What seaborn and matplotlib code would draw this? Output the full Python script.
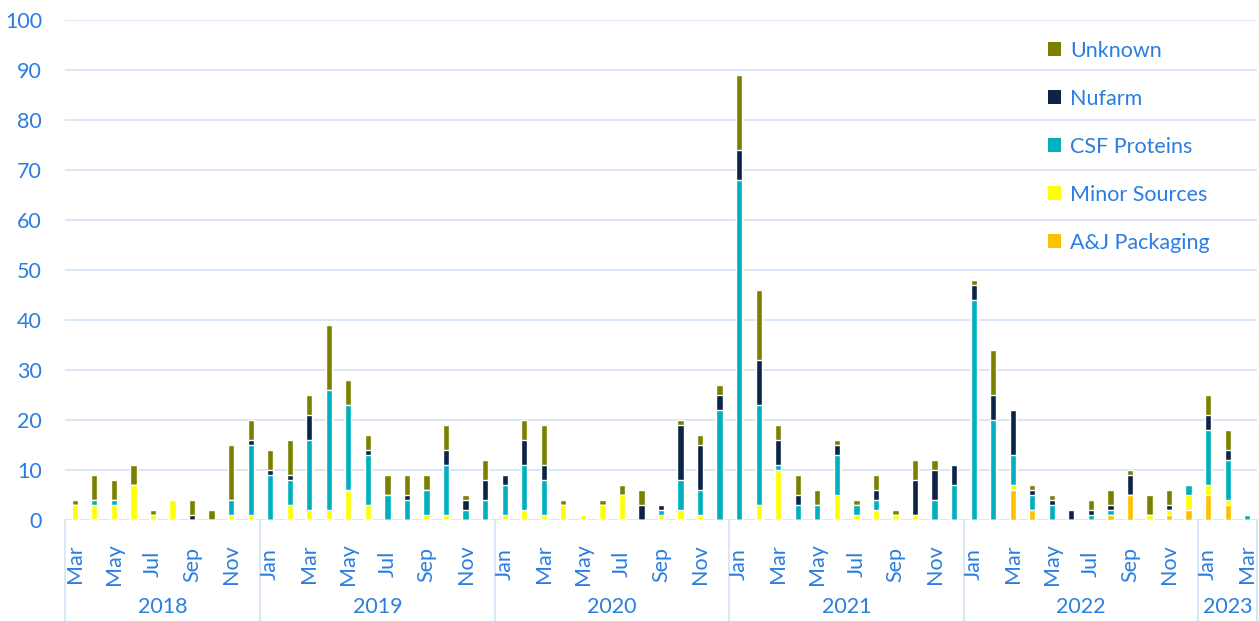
import numpy as np
import pandas as pd
import matplotlib
matplotlib.use("Agg")
import matplotlib.pyplot as plt
import matplotlib.transforms as mtransforms
from matplotlib.patches import Patch
import seaborn as sns

# ---- data -------------------------------------------------------------
years = ["2018", "2019", "2020", "2021", "2022", "2023"]
months_per_year = [10, 12, 12, 12, 12, 3]
month_names = ["Jan", "Feb", "Mar", "Apr", "May", "Jun",
               "Jul", "Aug", "Sep", "Oct", "Nov", "Dec"]

aj_packaging = [0] * 10 + [0] * 12 + [0] * 12 + [0] * 12 + \
    [0, 0, 6, 2, 0, 0, 0, 1, 5, 0, 1, 2] + [5, 3, 0]
minor_sources = [3, 3, 3, 7, 1, 4, 0, 0, 1, 1] + \
    [0, 3, 2, 2, 6, 3, 0, 0, 1, 1, 0, 0] + \
    [1, 2, 1, 3, 1, 3, 5, 0, 1, 2, 1, 0] + \
    [0, 3, 10, 0, 0, 5, 1, 2, 1, 1, 0, 0] + \
    [0, 0, 1, 0, 0, 0, 0, 0, 0, 1, 1, 3] + [2, 1, 0]
csf_proteins = [0, 1, 1, 0, 0, 0, 0, 0, 3, 14] + \
    [9, 5, 14, 24, 17, 10, 5, 4, 5, 10, 2, 4] + \
    [6, 9, 7, 0, 0, 0, 0, 0, 1, 6, 5, 22] + \
    [68, 20, 1, 3, 3, 8, 2, 2, 0, 0, 4, 7] + \
    [44, 20, 6, 3, 3, 0, 1, 1, 0, 0, 0, 2] + [11, 8, 1]
nufarm = [0, 0, 0, 0, 0, 0, 1, 0, 0, 1] + \
    [1, 1, 5, 0, 0, 1, 0, 1, 0, 3, 2, 4] + \
    [2, 5, 3, 0, 0, 0, 0, 3, 1, 11, 9, 3] + \
    [6, 9, 5, 2, 0, 2, 0, 2, 0, 7, 6, 4] + \
    [3, 5, 9, 1, 1, 2, 1, 1, 4, 0, 1, 0] + [3, 2, 0]
unknown = [1, 5, 4, 4, 1, 0, 3, 2, 11, 4] + \
    [4, 7, 4, 13, 5, 3, 4, 4, 3, 5, 1, 4] + \
    [0, 4, 8, 1, 0, 1, 2, 3, 0, 1, 2, 2] + \
    [15, 14, 3, 4, 3, 1, 1, 3, 1, 4, 2, 0] + \
    [1, 9, 0, 1, 1, 0, 2, 3, 1, 4, 3, 0] + [4, 4, 0]

series_names = ["A&J Packaging", "Minor Sources", "CSF Proteins", "Nufarm", "Unknown"]
series_values = [aj_packaging, minor_sources, csf_proteins, nufarm, unknown]
series_colors = ["#FFC000", "#FFFF00", "#00B0BE", "#0B2447", "#7A8000"]

# month keys
keys, mlabels = [], []
start_month = {"2018": 3}
for y, n in zip(years, months_per_year):
    s = start_month.get(y, 1)
    for m in range(s, s + n):
        keys.append(f"{y}-{m:02d}")
        mlabels.append(month_names[m - 1])

df = pd.DataFrame({"month": keys})
for name, vals in zip(series_names, series_values):
    df[name] = vals
cum = df[series_names].cumsum(axis=1)

# ---- style ------------------------------------------------------------
sns.set_theme(style="white")
plt.rcParams["font.family"] = ["Lato", "DejaVu Sans"]
blue = "#2A7DE1"
grid_c = "#D5E5F6"
fs = 15.5

fig = plt.figure(figsize=(12.59, 6.21), dpi=100)
ax = fig.add_axes([65 / 1259, 1 - 520 / 621, 1192 / 1259, 500 / 621])

# draw stacked bars (top layer first)
for name, col in reversed(list(zip(series_names, series_colors))):
    sns.barplot(x=df["month"], y=cum[name], order=keys, color=col,
                saturation=1, width=0.32, errorbar=None, ax=ax, zorder=3)

n = len(keys)
ax.set_xlim(-0.5, n - 0.5)
ax.set_ylim(0, 100)
ax.set_yticks(np.arange(0, 101, 10))
ax.yaxis.grid(True, color=grid_c, linewidth=1.3, zorder=0)
ax.xaxis.grid(False)
for sp in ax.spines.values():
    sp.set_visible(False)
ax.tick_params(axis="y", length=0, pad=16.5, labelsize=fs, labelcolor=blue)
ax.set_xticks([])
ax.set_xlabel("")
ax.set_ylabel("")

# month labels
trans = mtransforms.blended_transform_factory(ax.transData, ax.transAxes)
for i, lab in enumerate(mlabels):
    if i % 2 == 0:
        ax.text(i, -0.088, lab, rotation=90, ha="center", va="center",
                fontsize=fs, color=blue, transform=trans)

# year labels and separators
edges = np.concatenate([[0], np.cumsum(months_per_year)]) - 0.5
for k, y in enumerate(years):
    ax.text((edges[k] + edges[k + 1]) / 2, -0.174, y, ha="center", va="center",
            fontsize=fs, color=blue, transform=trans)
for e in edges:
    ax.plot([e, e], [0, -0.21], color=grid_c, linewidth=1.3,
            transform=trans, clip_on=False)

# legend
handles = [Patch(facecolor=c, edgecolor="none", label=nm)
           for nm, c in zip(series_names, series_colors)][::-1]
leg = ax.legend(handles=handles, loc="upper left",
                bbox_to_anchor=((1048 - 65) / 1192, (520 - 41) / 500),
                frameon=False, fontsize=fs, handlelength=0.62, handleheight=0.62,
                handletextpad=0.4, labelspacing=1.3, borderpad=0,
                borderaxespad=0)
for t in leg.get_texts():
    t.set_color(blue)

fig.savefig("out.png", dpi=100)
